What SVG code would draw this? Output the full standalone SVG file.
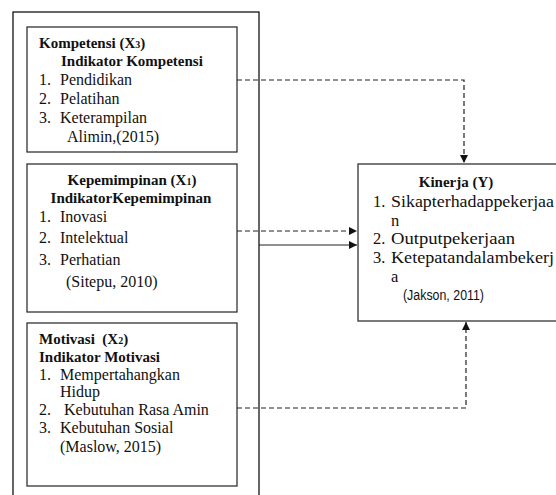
<svg xmlns="http://www.w3.org/2000/svg" width="556" height="495" viewBox="0 0 556 495">
<style>
.box{fill:#fff;stroke:#333;stroke-width:1.3}
.outer{fill:none;stroke:#000;stroke-width:1.2}
.t{font-family:"Liberation Serif","Times New Roman",serif;font-size:16px;fill:#111}
.k{font-family:"Liberation Serif","Times New Roman",serif;font-size:16.5px;fill:#111}
.b{font-family:"Liberation Serif","Times New Roman",serif;font-size:15px;font-weight:bold;fill:#111}
.s{font-family:"Liberation Sans",Arial,sans-serif;font-size:14px;fill:#111}
.sub{font-size:10px}
.dash{fill:none;stroke:#222;stroke-width:1.2;stroke-dasharray:5,3}
.solid{fill:none;stroke:#222;stroke-width:1.2}
</style>
<defs>
<marker id="ah" markerWidth="8" markerHeight="8" refX="8" refY="4" orient="auto" markerUnits="userSpaceOnUse">
<path d="M0,0 L8,4 L0,8 Z" fill="#111"/>
</marker>
</defs>
<rect width="556" height="495" fill="#fff"/>
<rect id="outer" class="outer" x="13" y="12" width="246" height="490"/>
<g id="kompetensi">
<rect class="box" x="27" y="27" width="210" height="125"/>
<text class="b" x="39" y="48">Kompetensi (X<tspan class="sub">3</tspan>)</text>
<text class="b" x="61" y="66">Indikator Kompetensi</text>
<text class="t" x="39" y="85">1.</text><text class="t" x="60" y="85">Pendidikan</text>
<text class="t" x="39" y="104">2.</text><text class="t" x="60" y="104">Pelatihan</text>
<text class="t" x="39" y="123">3.</text><text class="t" x="60" y="123">Keterampilan</text>
<text class="t" x="67" y="142">Alimin,(2015)</text>
</g>
<g id="kepemimpinan">
<rect class="box" x="27" y="164" width="210" height="148"/>
<text class="b" x="132" y="185" text-anchor="middle">Kepemimpinan  (X<tspan class="sub">1</tspan>)</text>
<text class="b" x="131" y="203" text-anchor="middle">IndikatorKepemimpinan</text>
<text class="t" x="39" y="222">1.</text><text class="t" x="60" y="222">Inovasi</text>
<text class="t" x="39" y="243">2.</text><text class="t" x="60" y="243">Intelektual</text>
<text class="t" x="39" y="265">3.</text><text class="t" x="60" y="265">Perhatian</text>
<text class="t" x="66" y="287">(Sitepu, 2010)</text>
</g>
<g id="motivasi">
<rect class="box" x="27" y="323" width="210" height="163"/>
<text class="b" x="39" y="344" xml:space="preserve">Motivasi  (X<tspan class="sub">2</tspan>)</text>
<text class="b" x="39" y="362">Indikator Motivasi</text>
<text class="t" x="39" y="380">1.</text><text class="t" x="60" y="380">Mempertahangkan</text>
<text class="t" x="60" y="397">Hidup</text>
<text class="t" x="39" y="415">2.</text><text class="t" x="64" y="415">Kebutuhan Rasa Amin</text>
<text class="t" x="39" y="433">3.</text><text class="t" x="60" y="433">Kebutuhan Sosial</text>
<text class="t" x="60" y="452">(Maslow, 2015)</text>
</g>
<g id="kinerja">
<rect class="box" x="358" y="164" width="200" height="157"/>
<text class="b" x="456" y="187" text-anchor="middle">Kinerja (Y)</text>
<text class="k" x="373" y="207">1.</text><text class="k" x="391" y="207" textLength="163" lengthAdjust="spacingAndGlyphs">Sikapterhadappekerjaa</text>
<text class="k" x="391" y="226">n</text>
<text class="k" x="373" y="244">2.</text><text class="k" x="391" y="244" textLength="124" lengthAdjust="spacingAndGlyphs">Outputpekerjaan</text>
<text class="k" x="373" y="263">3.</text><text class="k" x="391" y="263" textLength="163" lengthAdjust="spacingAndGlyphs">Ketepatandalambekerj</text>
<text class="k" x="391" y="282">a</text>
<text class="s" x="403" y="300" textLength="81" lengthAdjust="spacingAndGlyphs">(Jakson, 2011)</text>
</g>
<g id="connectors">
<path class="dash" d="M237,80 H464 V163" marker-end="url(#ah)"/>
<path class="dash" d="M237,231 H357" marker-end="url(#ah)"/>
<path class="solid" d="M259,245 H357" marker-end="url(#ah)"/>
<path class="dash" d="M237,408 H466 V322" marker-end="url(#ah)"/>
</g>
</svg>
